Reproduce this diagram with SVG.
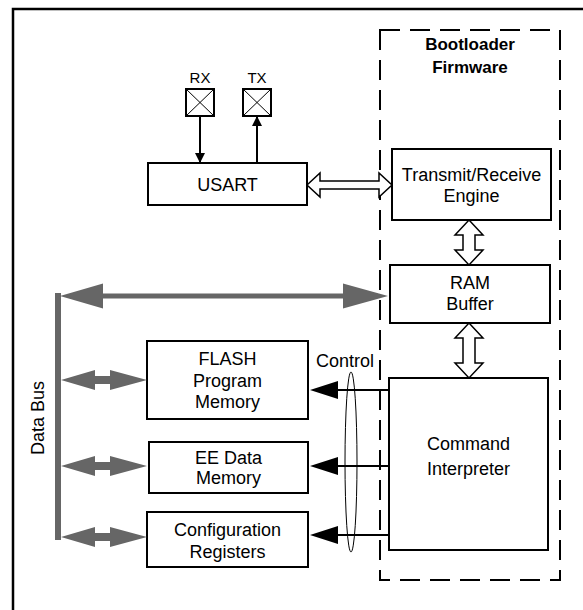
<svg xmlns="http://www.w3.org/2000/svg" width="583" height="610" viewBox="0 0 583 610">
<style>
text{font-family:"Liberation Sans",Arial,sans-serif;font-size:18px;fill:#000;text-anchor:middle}
.b{font-weight:bold;font-size:17px}
.sm{font-size:15px}
.box{fill:#fff;stroke:#000;stroke-width:2}
.hol{fill:#fff;stroke:#000;stroke-width:1.5;stroke-linejoin:miter}
.gray{fill:#666;stroke:none}
.ln{stroke:#000;stroke-width:2;fill:none}
</style>
<defs>
<marker id="ah" markerWidth="10" markerHeight="10" refX="10" refY="5" orient="auto" markerUnits="userSpaceOnUse"><path d="M0,0 L10,5 L0,10 Z" fill="#000"/></marker>
<path id="gsmall" d="M0,0 L34,-10 L34,-4 L49,-4 L49,-10 L86,0 L49,10 L49,4 L34,4 L34,10 Z"/>
<path id="ctl" d="M0,0 L28,-9 L28,-1 L79,-1 L79,1 L28,1 L28,9 Z"/>
</defs>
<path d="M13,610 V9 H583" fill="none" stroke="#000" stroke-width="2.5"/>
<rect x="380" y="30" width="180" height="550" fill="none" stroke="#000" stroke-width="2" stroke-dasharray="20 10"/>
<g id="bootloader-label"><text class="b" x="470" y="50">Bootloader</text><text class="b" x="470" y="73">Firmware</text></g>
<g id="rx"><text class="sm" x="200" y="83">RX</text><rect class="box" x="186" y="89" width="28" height="27"/><path d="M186,89 L214,116 M214,89 L186,116" stroke="#000" stroke-width="1"/></g>
<g id="tx"><text class="sm" x="257" y="83">TX</text><rect class="box" x="243" y="89" width="28" height="27"/><path d="M243,89 L271,116 M271,89 L243,116" stroke="#000" stroke-width="1"/></g>
<g id="usart"><rect class="box" x="148" y="163" width="159" height="42"/><text x="227.5" y="191">USART</text></g>
<g id="trx"><rect class="box" x="392" y="149" width="159" height="71"/><text x="471.5" y="181">Transmit/Receive</text><text x="471.5" y="202">Engine</text></g>
<g id="ram"><rect class="box" x="390" y="265" width="160" height="58"/><text x="470" y="289">RAM</text><text x="470" y="310">Buffer</text></g>
<g id="cmd"><rect class="box" x="389" y="378" width="159" height="172"/><text x="468.5" y="450">Command</text><text x="468.5" y="475">Interpreter</text></g>
<g id="flash"><rect class="box" x="147" y="341" width="161" height="78"/><text x="227.5" y="365">FLASH</text><text x="227.5" y="387">Program</text><text x="227.5" y="408">Memory</text></g>
<g id="ee"><rect class="box" x="149" y="442" width="159" height="51"/><text x="228.5" y="464">EE Data</text><text x="228.5" y="484">Memory</text></g>
<g id="config"><rect class="box" x="147" y="512" width="161" height="55"/><text x="227.5" y="536">Configuration</text><text x="227.5" y="558">Registers</text></g>
<g id="databus"><rect class="gray" x="55" y="293" width="6" height="247"/><text transform="translate(44,418) rotate(-90)">Data Bus</text></g>
<g id="connectors">
<line class="ln" x1="200" y1="116" x2="200" y2="163" marker-end="url(#ah)"/>
<line class="ln" x1="257" y1="163" x2="257" y2="116" marker-end="url(#ah)"/>
<path class="hol" d="M307,185 L320,173 L320,181 L379,181 L379,173 L392,185 L379,197 L379,189 L320,189 L320,197 Z"/>
<path class="hol" d="M469,220 L483,235 L475,235 L475,250 L483,250 L469,265 L455,250 L463,250 L463,235 L455,235 Z"/>
<path class="hol" d="M469,323 L483,338 L475,338 L475,363 L483,363 L469,378 L455,363 L463,363 L463,338 L455,338 Z"/>
<path class="gray" d="M60,296 L103,283.5 L103,293.5 L343,293.5 L343,283.5 L388,296 L343,308.5 L343,298.5 L103,298.5 L103,308.5 Z"/>
<use href="#gsmall" class="gray" x="61" y="380"/>
<use href="#gsmall" class="gray" x="61" y="466"/>
<use href="#gsmall" class="gray" x="61" y="537"/>
<use href="#ctl" fill="#000" x="310" y="390"/>
<use href="#ctl" fill="#000" x="310" y="466"/>
<use href="#ctl" fill="#000" x="310" y="535"/>
<ellipse cx="351" cy="462" rx="6" ry="90" fill="none" stroke="#000" stroke-width="1"/>
<text x="345" y="367">Control</text>
</g>
</svg>
